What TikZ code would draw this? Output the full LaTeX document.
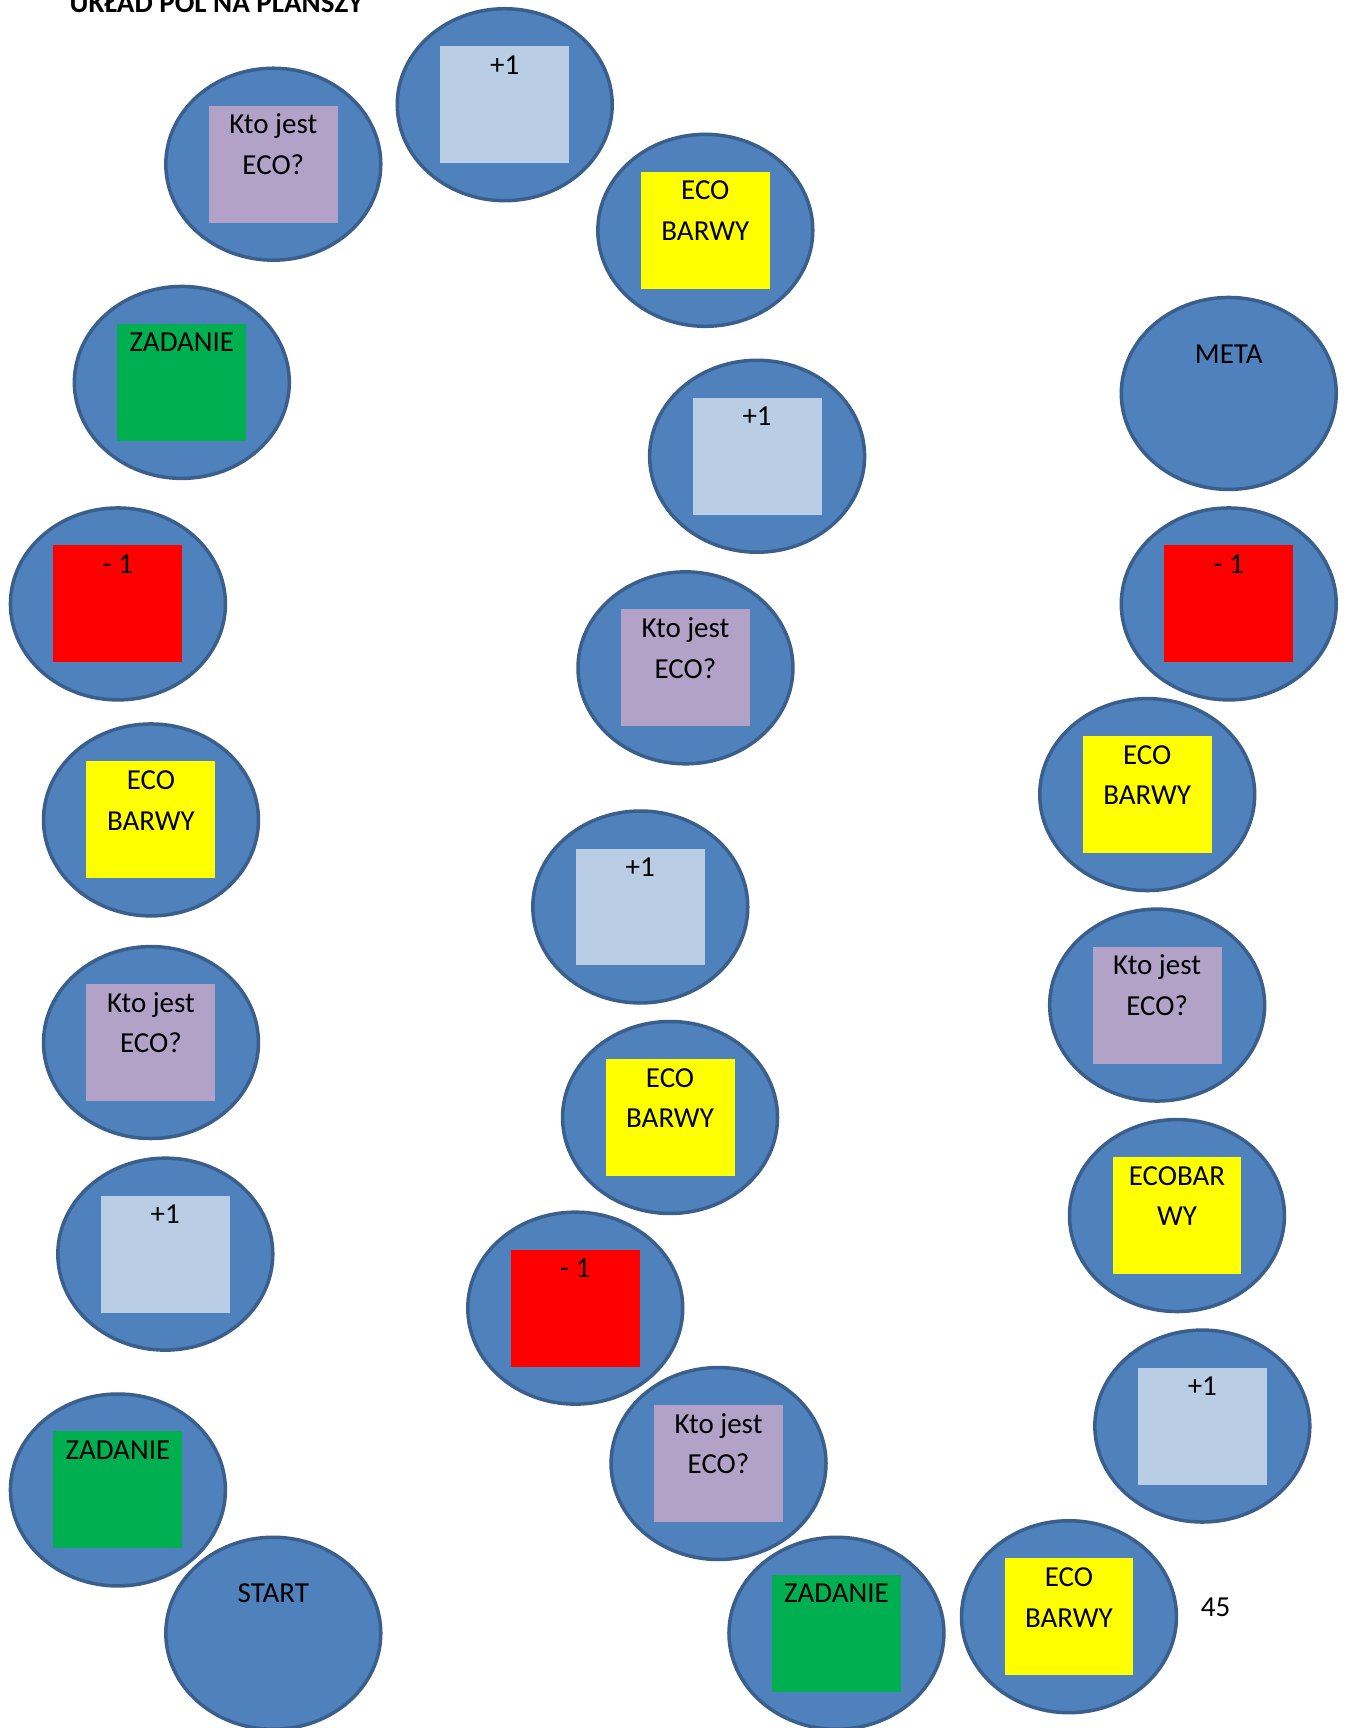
\documentclass[tikz,border=0pt]{standalone}
\usepackage{fontspec}
\setmainfont{Carlito}
\usetikzlibrary{shapes.geometric}
\definecolor{ovalfill}{HTML}{4F81BD}
\definecolor{ovalline}{HTML}{3A5F8C}
\definecolor{plusbox}{HTML}{B9CDE5}
\definecolor{ktobox}{HTML}{B3A2C7}
\definecolor{ecobox}{HTML}{FFFF00}
\definecolor{zadbox}{HTML}{00B050}
\definecolor{minusbox}{HTML}{FF0000}
% name, x, y, colour, line1, line2
\newcommand\fld[6]{%
  \node[oval] (#1) at (#2,#3) {};
  \node[sq, fill=#4] (#1sq) at (#2,#3) {};
  \node[lbl] (#1a) at ({#2},{#3-27.6}) {#5};
  \node[lbl] (#1b) at ({#2},{#3+9.4}) {#6};
}
\newcommand\fldone[5]{%
  \node[oval] (#1) at (#2,#3) {};
  \node[sq, fill=#4] (#1sq) at (#2,#3) {};
  \node[lbl] (#1a) at ({#2},{#3-27.6}) {#5};
}
\newcommand\fldplain[4]{%
  \node[oval] (#1) at (#2,#3) {};
  \node[lbl] (#1a) at ({#2},{#3-27.6}) {#4};
}
\begin{document}
\begin{tikzpicture}[x=1.1023pt,y=-1.1023pt,
  oval/.style={ellipse, draw=ovalline, fill=ovalfill, line width=3.5pt,
    minimum width=215pt, minimum height=192pt, inner sep=0pt},
  sq/.style={rectangle, inner sep=0pt, minimum width=129pt, minimum height=117pt},
  lbl/.style={font=\fontsize{29}{41}\selectfont, inner sep=0pt, anchor=base},
  ttl/.style={font=\fontsize{29}{41}\selectfont\bfseries, inner sep=0pt, anchor=base west}]
\useasboundingbox (0,0) rectangle (1222,1568);
\clip (0,0) rectangle (1222,1568);
\fill[white] (0,0) rectangle (1222,1568);
\node[ttl] (title) at (63,10.9) {UKŁAD PÓL NA PLANSZY};
% left column
\fld{k1}{248}{149}{ktobox}{Kto jest}{ECO?}
\fldone{z1}{165}{347}{zadbox}{ZADANIE}
\fldone{m1}{107}{548}{minusbox}{- 1}
\fld{e1}{137}{744}{ecobox}{ECO}{BARWY}
\fld{k2}{137}{946}{ktobox}{Kto jest}{ECO?}
\fldone{p1}{150}{1138}{plusbox}{+1}
\fldone{z2}{107}{1352}{zadbox}{ZADANIE}
\fldplain{start}{248}{1482}{START}
% middle column
\fldone{p2}{458}{95}{plusbox}{+1}
\fld{e2}{640}{209}{ecobox}{ECO}{BARWY}
\fldone{p3}{687}{414}{plusbox}{+1}
\fld{k3}{622}{606}{ktobox}{Kto jest}{ECO?}
\fldone{p4}{581}{823}{plusbox}{+1}
\fld{e3}{608}{1014}{ecobox}{ECO}{BARWY}
\fldone{m2}{522}{1187}{minusbox}{- 1}
\fld{k4}{652}{1328}{ktobox}{Kto jest}{ECO?}
\fldone{z3}{759}{1482}{zadbox}{ZADANIE}
% right column
\fld{e4}{970}{1467}{ecobox}{ECO}{BARWY}
\fldone{p5}{1091}{1294}{plusbox}{+1}
\fld{e5}{1068}{1103}{ecobox}{ECOBAR}{WY}
\fld{k5}{1050}{912}{ktobox}{Kto jest}{ECO?}
\fld{e6}{1041}{721}{ecobox}{ECO}{BARWY}
\fldone{m3}{1115}{548}{minusbox}{- 1}
\fldplain{meta}{1115}{357}{META}
\node[lbl] (page) at (1103,1467) {45};
\end{tikzpicture}
\end{document}
